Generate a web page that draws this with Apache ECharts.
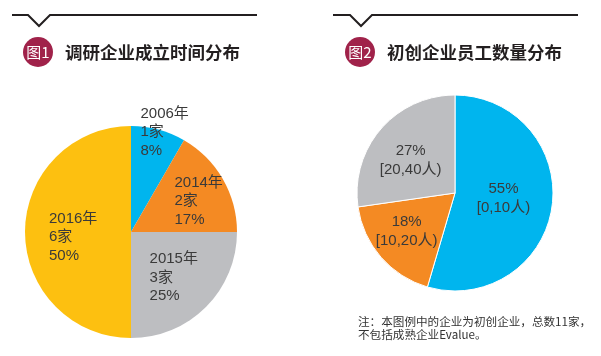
<!DOCTYPE html>
<html><head><meta charset="utf-8">
<script src="https://cdn.jsdelivr.net/npm/echarts@6/dist/echarts.min.js"></script>
<style>html,body{margin:0;padding:0;background:#fff}#c{width:601px;height:356px}</style>
</head><body><div id="c"></div>
<script>
// Chart 1: founding year distribution
var yearCategories = ['2006年', '2014年', '2015年', '2016年'];
var yearCounts = [1, 2, 3, 6];
var yearPercents = ['8%', '17%', '25%', '50%'];
// Chart 2: employee count distribution
var sizeCategories = ['[0,10人)', '[10,20人)', '[20,40人)'];
var sizeCounts = [6, 2, 3];
var sizePercents = ['55%', '18%', '27%'];
var title1 = '调研企业成立时间分布';
var title2 = '初创企业员工数量分布';
var badge1 = '图1', badge2 = '图2';
var noteLines = ['注：本图例中的企业为初创企业，总数11家，', '不包括成熟企业Evalue。'];

var FONT = '"Noto Sans CJK SC","Noto Sans",sans-serif';
var LFONT = '"Liberation Sans","Noto Sans CJK SC",sans-serif';
var yearColors = ['#00b5ee', '#f48a23', '#bdbec1', '#fdc010'];
var sizeColors = ['#00b5ee', '#f48a23', '#bdbec1'];
var yearOffsets = [[20, -46], [20, -3], [4, 6], [-1, 5]];
var sizeOffsets = [[-3, -2], [-9, 4], [-5, 1]];

var labelBase = {color: '#3a3a3a', fontSize: 15, fontFamily: LFONT, lineHeight: 18.5};

var d1 = yearCategories.map(function (c, i) {
  return {
    name: c, value: yearCounts[i], itemStyle: {color: yearColors[i]},
    label: Object.assign({}, labelBase, {
      position: 'inside', offset: yearOffsets[i],
      formatter: '{a|' + c + '}\n{a|' + yearCounts[i] + '家}\n{a|' + yearPercents[i] + '}',
      rich: {a: {width: 50, align: 'left', color: '#3a3a3a', fontSize: 15, fontFamily: LFONT, lineHeight: 18.5}}
    })
  };
});
var d2 = sizeCategories.map(function (c, i) {
  return {
    name: c, value: sizeCounts[i], itemStyle: {color: sizeColors[i]},
    label: Object.assign({}, labelBase, {
      position: 'inside', align: 'center', offset: sizeOffsets[i], lineHeight: 19,
      formatter: sizePercents[i] + '\n' + c
    })
  };
});

function header(x0, x1, nx) {
  return {
    type: 'polyline',
    shape: {points: [[x0, 15], [nx, 15], [nx + 11, 26], [nx + 22, 15], [x1, 15]]},
    style: {stroke: '#231f20', lineWidth: 2, fill: null}
  };
}
function badge(cx, text) {
  return [
    {type: 'circle', shape: {cx: cx, cy: 52, r: 15}, style: {fill: '#a0224a'}},
    {type: 'text', x: cx, y: 52, style: {text: text, fill: '#fff', font: '15px ' + FONT, align: 'center', verticalAlign: 'middle'}}
  ];
}
function title(x, text) {
  return {type: 'text', x: x, y: 52, style: {text: text, fill: '#231f20', font: 'bold 17.5px ' + FONT, verticalAlign: 'middle'}};
}

var chart = echarts.init(document.getElementById('c'), null, {renderer: 'canvas'});
chart.setOption({
  animation: false,
  backgroundColor: '#fff',
  graphic: [header(12, 257, 28), header(333, 578, 350)]
    .concat(badge(38, badge1), badge(360, badge2))
    .concat([title(65, title1), title(387, title2),
      {type: 'text', x: 358, y: 315, style: {text: noteLines.join('\n'), fill: '#333', font: '11.6px ' + FONT, lineHeight: 13}}]),
  series: [
    {type: 'pie', center: [131, 232], radius: [0, 106], startAngle: 90, clockwise: true,
      labelLine: {show: false}, itemStyle: {borderWidth: 0}, data: d1, emphasis: {disabled: true}},
    {type: 'pie', center: [455, 193], radius: [0, 98], startAngle: 90, clockwise: true,
      labelLine: {show: false}, itemStyle: {borderColor: '#fff', borderWidth: 1}, data: d2, emphasis: {disabled: true}}
  ]
});
</script></body></html>
